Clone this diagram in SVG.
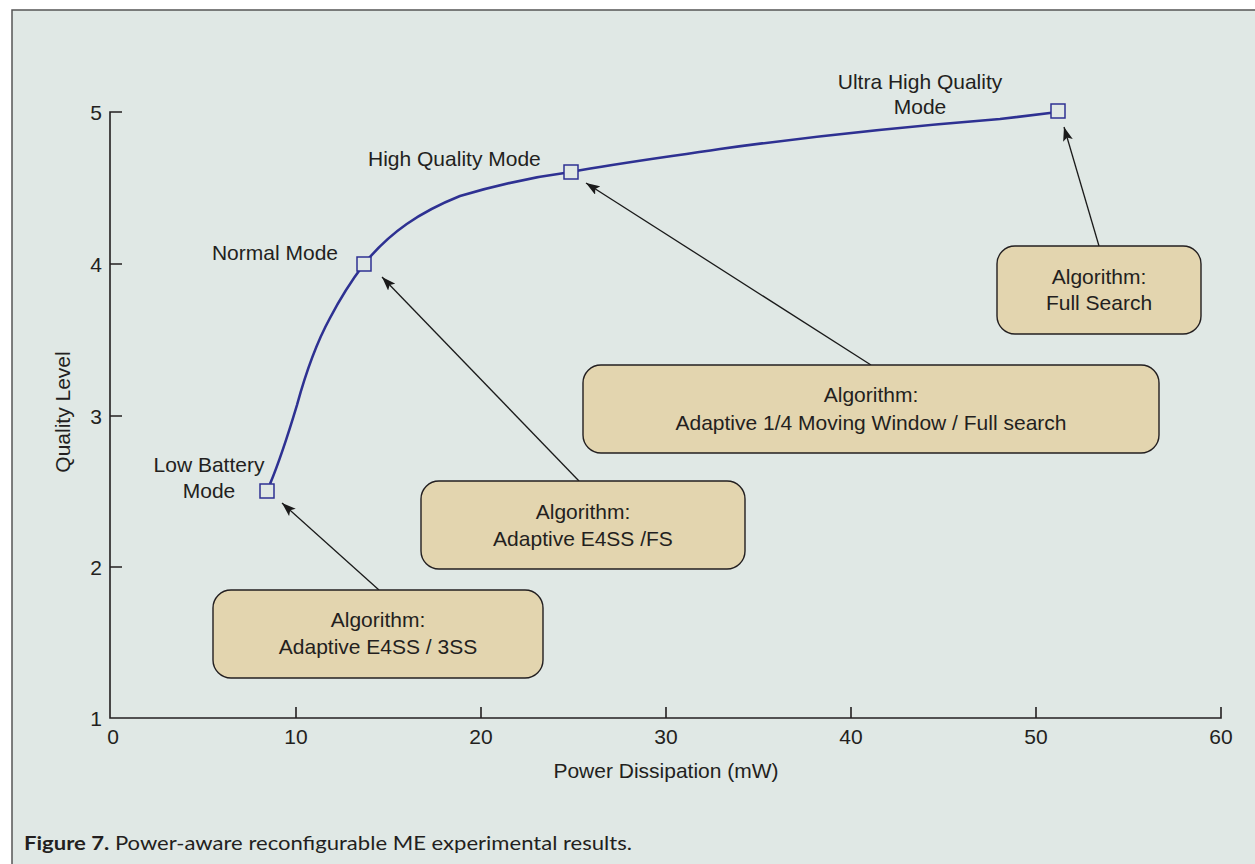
<svg xmlns="http://www.w3.org/2000/svg" width="1255" height="864" viewBox="0 0 1255 864">
<defs>
<marker id="ah" viewBox="0 0 14 10" refX="14" refY="5" markerWidth="14" markerHeight="10" markerUnits="userSpaceOnUse" orient="auto">
<path d="M0,0 L14,5 L0,10 L3,5 Z" fill="#1a1a1a"/>
</marker>
<style>
.t{font-family:"Liberation Sans",Arial,sans-serif;font-size:21px;fill:#231f20}
.c{text-anchor:middle}
.e{text-anchor:end}
.ax{stroke:#231f20;stroke-width:1.6;fill:none}
.box{fill:#e3d5af;stroke:#231f20;stroke-width:1.4}
.pt{fill:#e0e8e5;stroke:#2e3192;stroke-width:1.5}
.arr{stroke:#1a1a1a;stroke-width:1.3;fill:none;marker-end:url(#ah)}
.cap{font-family:Lato,"Open Sans",sans-serif;font-size:19px;fill:#231f20}
</style>
</defs>
<rect x="0" y="0" width="1255" height="864" fill="#ffffff"/>
<rect x="12" y="10" width="1260" height="870" fill="#e0e8e5" stroke="#555" stroke-width="1.5"/>

<g id="axes">
<path class="ax" d="M122,112 H110 V718 H1221 V707"/>
<path class="ax" d="M110,264 H122 M110,416 H122 M110,567 H122 M296,718 V707 M481,718 V707 M666,718 V707 M851,718 V707 M1036,718 V707"/>
<text class="t e" x="102" y="120">5</text>
<text class="t e" x="102" y="272">4</text>
<text class="t e" x="102" y="424">3</text>
<text class="t e" x="102" y="575">2</text>
<text class="t e" x="102" y="726">1</text>
<text class="t c" x="113" y="744">0</text>
<text class="t c" x="296" y="744">10</text>
<text class="t c" x="481" y="744">20</text>
<text class="t c" x="666" y="744">30</text>
<text class="t c" x="851" y="744">40</text>
<text class="t c" x="1036" y="744">50</text>
<text class="t c" x="1221" y="744">60</text>
<text class="t c" x="666" y="778">Power Dissipation (mW)</text>
<text class="t c" transform="translate(70,412) rotate(-90)">Quality Level</text>
</g>

<g id="curve">
<path d="M270,484 C280,460 288,435 297,405 C306,372 318,340 330,318 C342,295 352,280 364,264 C390,232 420,212 460,196 C500,184 540,176 571,172 C620,163 660,158 720,149 C800,138 900,127 1000,119 L1058,112" fill="none" stroke="#2e3192" stroke-width="2.6"/>
</g>

<g id="connectors">
<line class="arr" x1="379" y1="590" x2="282" y2="503"/>
<line class="arr" x1="579" y1="481" x2="382" y2="277"/>
<line class="arr" x1="871" y1="365" x2="586" y2="183"/>
<line class="arr" x1="1099" y1="246" x2="1064" y2="127"/>
</g>

<g id="p-low"><rect class="pt" x="260" y="484" width="14" height="14"/>
<text class="t c" x="209" y="472">Low Battery</text><text class="t c" x="209" y="498">Mode</text></g>
<g id="p-normal"><rect class="pt" x="357" y="257" width="14" height="14"/>
<text class="t e" x="338" y="260">Normal Mode</text></g>
<g id="p-high"><rect class="pt" x="564" y="165" width="14" height="14"/>
<text class="t" x="368" y="166">High Quality Mode</text></g>
<g id="p-ultra"><rect class="pt" x="1051" y="104" width="14" height="14"/>
<text class="t c" x="920" y="89">Ultra High Quality</text><text class="t c" x="920" y="114">Mode</text></g>

<g id="box1"><rect class="box" x="213" y="590" width="330" height="88" rx="18"/>
<text class="t c" x="378" y="627">Algorithm:</text><text class="t c" x="378" y="654">Adaptive E4SS / 3SS</text></g>
<g id="box2"><rect class="box" x="421" y="481" width="324" height="88" rx="18"/>
<text class="t c" x="583" y="519">Algorithm:</text><text class="t c" x="583" y="546">Adaptive E4SS /FS</text></g>
<g id="box3"><rect class="box" x="583" y="365" width="576" height="88" rx="18"/>
<text class="t c" x="871" y="402">Algorithm:</text><text class="t c" x="871" y="430">Adaptive 1/4 Moving Window / Full search</text></g>
<g id="box4"><rect class="box" x="997" y="246" width="204" height="88" rx="18"/>
<text class="t c" x="1099" y="284">Algorithm:</text><text class="t c" x="1099" y="310">Full Search</text></g>

<g id="caption">
<text class="cap" x="24" y="850" textLength="608" lengthAdjust="spacingAndGlyphs"><tspan font-weight="bold">Figure 7.</tspan> Power-aware reconfigurable ME experimental results.</text>
</g>
</svg>
